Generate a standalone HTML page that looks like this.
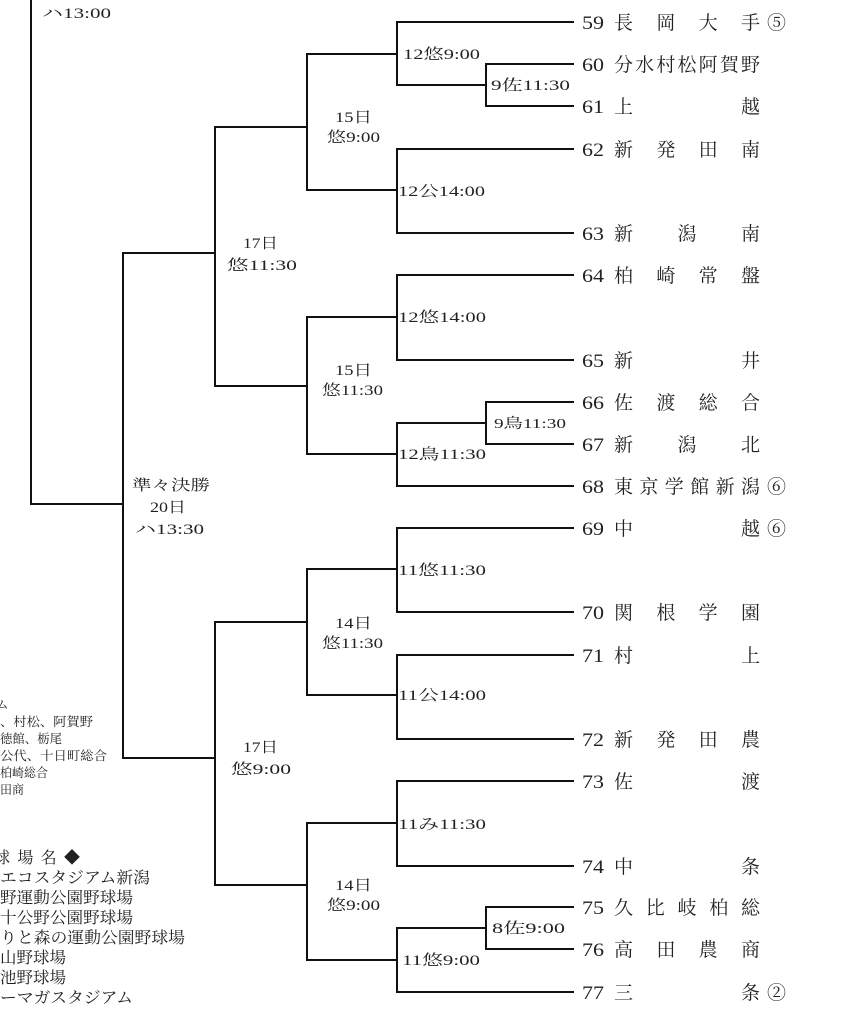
<!DOCTYPE html>
<html><head><meta charset="utf-8"><style>
html,body{margin:0;padding:0;background:#fff;}
svg{display:block;}
text{font-family:"Liberation Serif","Noto Serif CJK SC","Noto Sans CJK JP",serif;fill:#222;}
.t{font-size:19px;}
.l{font-size:15px;}
.s{font-size:12.5px;}
.v{font-size:15px;}
</style></head><body>
<svg width="843" height="1024" viewBox="0 0 843 1024" xmlns="http://www.w3.org/2000/svg">
<g stroke="#111" stroke-width="2" fill="none">
<path d="M574 22H397V85H486M574 64H486V106H574"/>
<path d="M397 54H307V190H397M574 149H397V233H574"/>
<path d="M307 127H215V386H307"/>
<path d="M574 275H397V360H574M397 317H307V454H397"/>
<path d="M574 402H486V444H574M486 423H397V486H574"/>
<path d="M215 253H123V758H215"/>
<path d="M574 528H397V612H574M397 569H307V695H397M574 655H397V739H574"/>
<path d="M307 622H215V885H307"/>
<path d="M574 781H397V866H574M397 823H307V960H397"/>
<path d="M574 907H486V949H574M486 928H397V992H574"/>
<path d="M123 504H31V0"/>
</g>
<g class="t">
<g font-size="19">
<text x="582" y="29" textLength="22" lengthAdjust="spacingAndGlyphs">59</text>
<text x="582" y="71" textLength="22" lengthAdjust="spacingAndGlyphs">60</text>
<text x="582" y="113" textLength="22" lengthAdjust="spacingAndGlyphs">61</text>
<text x="582" y="156" textLength="22" lengthAdjust="spacingAndGlyphs">62</text>
<text x="582" y="240" textLength="22" lengthAdjust="spacingAndGlyphs">63</text>
<text x="582" y="282" textLength="22" lengthAdjust="spacingAndGlyphs">64</text>
<text x="582" y="367" textLength="22" lengthAdjust="spacingAndGlyphs">65</text>
<text x="582" y="409" textLength="22" lengthAdjust="spacingAndGlyphs">66</text>
<text x="582" y="451" textLength="22" lengthAdjust="spacingAndGlyphs">67</text>
<text x="582" y="493" textLength="22" lengthAdjust="spacingAndGlyphs">68</text>
<text x="582" y="535" textLength="22" lengthAdjust="spacingAndGlyphs">69</text>
<text x="582" y="619" textLength="22" lengthAdjust="spacingAndGlyphs">70</text>
<text x="582" y="662" textLength="22" lengthAdjust="spacingAndGlyphs">71</text>
<text x="582" y="746" textLength="22" lengthAdjust="spacingAndGlyphs">72</text>
<text x="582" y="788" textLength="22" lengthAdjust="spacingAndGlyphs">73</text>
<text x="582" y="873" textLength="22" lengthAdjust="spacingAndGlyphs">74</text>
<text x="582" y="914" textLength="22" lengthAdjust="spacingAndGlyphs">75</text>
<text x="582" y="956" textLength="22" lengthAdjust="spacingAndGlyphs">76</text>
<text x="582" y="999" textLength="22" lengthAdjust="spacingAndGlyphs">77</text>
</g>
<g>
<text x="614" y="29" textLength="146" lengthAdjust="spacing">長　岡　大　手</text>
<text x="614" y="71" textLength="146" lengthAdjust="spacing">分水村松阿賀野</text>
<text x="614" y="113" textLength="146" lengthAdjust="spacing">上　　　　　越</text>
<text x="614" y="156" textLength="146" lengthAdjust="spacing">新　発　田　南</text>
<text x="614" y="240" textLength="146" lengthAdjust="spacing">新　　潟　　南</text>
<text x="614" y="282" textLength="146" lengthAdjust="spacing">柏　崎　常　盤</text>
<text x="614" y="367" textLength="146" lengthAdjust="spacing">新　　　　　井</text>
<text x="614" y="409" textLength="146" lengthAdjust="spacing">佐　渡　総　合</text>
<text x="614" y="451" textLength="146" lengthAdjust="spacing">新　　潟　　北</text>
<text x="614" y="493" textLength="146" lengthAdjust="spacing">東京学館新潟</text>
<text x="614" y="535" textLength="146" lengthAdjust="spacing">中　　　　　越</text>
<text x="614" y="619" textLength="146" lengthAdjust="spacing">関　根　学　園</text>
<text x="614" y="662" textLength="146" lengthAdjust="spacing">村　　　　　上</text>
<text x="614" y="746" textLength="146" lengthAdjust="spacing">新　発　田　農</text>
<text x="614" y="788" textLength="146" lengthAdjust="spacing">佐　　　　　渡</text>
<text x="614" y="873" textLength="146" lengthAdjust="spacing">中　　　　　条</text>
<text x="614" y="914" textLength="146" lengthAdjust="spacing">久比岐柏総</text>
<text x="614" y="956" textLength="146" lengthAdjust="spacing">高　田　農　商</text>
<text x="614" y="999" textLength="146" lengthAdjust="spacing">三　　　　　条</text>
</g>
<text x="767" y="29">⑤</text>
<text x="767" y="493">⑥</text>
<text x="767" y="535">⑥</text>
<text x="767" y="999">②</text>
</g>
<g class="l">
<text x="403" y="59" textLength="77" lengthAdjust="spacingAndGlyphs">12悠9:00</text>
<text x="491" y="90" textLength="79" lengthAdjust="spacingAndGlyphs">9佐11:30</text>
<text x="398" y="196" textLength="87" lengthAdjust="spacingAndGlyphs">12公14:00</text>
<text x="398" y="322" textLength="88" lengthAdjust="spacingAndGlyphs">12悠14:00</text>
<text x="494" y="428" font-size="14" textLength="72" lengthAdjust="spacingAndGlyphs">9鳥11:30</text>
<text x="398" y="459" textLength="88" lengthAdjust="spacingAndGlyphs">12鳥11:30</text>
<text x="398" y="575" textLength="88" lengthAdjust="spacingAndGlyphs">11悠11:30</text>
<text x="398" y="700" textLength="88" lengthAdjust="spacingAndGlyphs">11公14:00</text>
<text x="398" y="829" textLength="88" lengthAdjust="spacingAndGlyphs">11み11:30</text>
<text x="492" y="933" textLength="73" lengthAdjust="spacingAndGlyphs">8佐9:00</text>
<text x="402" y="965" textLength="78" lengthAdjust="spacingAndGlyphs">11悠9:00</text>
<text x="335" y="122" textLength="37" lengthAdjust="spacingAndGlyphs">15日</text>
<text x="327" y="142" textLength="53" lengthAdjust="spacingAndGlyphs">悠9:00</text>
<text x="335" y="375" textLength="37" lengthAdjust="spacingAndGlyphs">15日</text>
<text x="322" y="395" textLength="61" lengthAdjust="spacingAndGlyphs">悠11:30</text>
<text x="335" y="628" textLength="37" lengthAdjust="spacingAndGlyphs">14日</text>
<text x="322" y="648" textLength="61" lengthAdjust="spacingAndGlyphs">悠11:30</text>
<text x="335" y="890" textLength="37" lengthAdjust="spacingAndGlyphs">14日</text>
<text x="327" y="910" textLength="53" lengthAdjust="spacingAndGlyphs">悠9:00</text>
</g>
<g class="v" font-size="16">
<text x="243" y="248" textLength="35" lengthAdjust="spacingAndGlyphs">17日</text>
<text x="227" y="270" textLength="70" lengthAdjust="spacingAndGlyphs">悠11:30</text>
<text x="132" y="490" textLength="78" lengthAdjust="spacingAndGlyphs">準々決勝</text>
<text x="150" y="512" textLength="36" lengthAdjust="spacingAndGlyphs">20日</text>
<text x="135" y="534" textLength="69" lengthAdjust="spacingAndGlyphs">ハ13:30</text>
<text x="243" y="752" textLength="35" lengthAdjust="spacingAndGlyphs">17日</text>
<text x="231" y="774" textLength="60" lengthAdjust="spacingAndGlyphs">悠9:00</text>
<text x="42" y="18" textLength="69" lengthAdjust="spacingAndGlyphs">ハ13:00</text>
</g>
<g class="s" font-size="13">
<text x="-4" y="709">ム</text>
<text x="0" y="726" textLength="93" lengthAdjust="spacingAndGlyphs">、村松、阿賀野</text>
<text x="0" y="743" textLength="62" lengthAdjust="spacingAndGlyphs">徳館、栃尾</text>
<text x="0" y="760" textLength="107" lengthAdjust="spacingAndGlyphs">公代、十日町総合</text>
<text x="0" y="777" textLength="48" lengthAdjust="spacingAndGlyphs">柏崎総合</text>
<text x="0" y="794" textLength="24" lengthAdjust="spacingAndGlyphs">田商</text>
</g>
<g font-size="16">
<text x="-6" y="863" textLength="86" lengthAdjust="spacing">球 場 名 ◆</text>
<text x="0" y="883" textLength="150" lengthAdjust="spacingAndGlyphs">エコスタジアム新潟</text>
<text x="0" y="903" textLength="133" lengthAdjust="spacingAndGlyphs">野運動公園野球場</text>
<text x="0" y="923" textLength="133" lengthAdjust="spacingAndGlyphs">十公野公園野球場</text>
<text x="0" y="943" textLength="185" lengthAdjust="spacingAndGlyphs">りと森の運動公園野球場</text>
<text x="0" y="963" textLength="66" lengthAdjust="spacingAndGlyphs">山野球場</text>
<text x="0" y="983" textLength="66" lengthAdjust="spacingAndGlyphs">池野球場</text>
<text x="0" y="1003" textLength="133" lengthAdjust="spacingAndGlyphs">ーマガスタジアム</text>
</g>
</svg>
</body></html>
